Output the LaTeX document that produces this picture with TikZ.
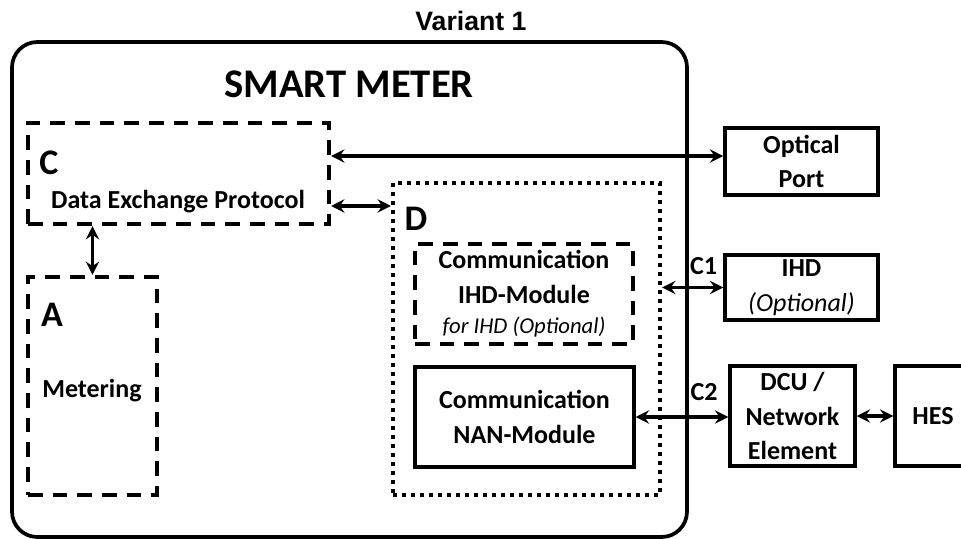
\documentclass[tikz,border=0pt]{standalone}
\usepackage{fontspec}
\setmainfont{Carlito}
\newfontfamily\titlefont{Liberation Sans}
\usetikzlibrary{arrows.meta}

\begin{document}
\begin{tikzpicture}[
    x = 0.75pt,
    y = -0.75pt,
    >={Stealth[length=10pt, width=10pt, inset=3.5pt]},
    solidbox/.style = {draw, line width=2.6pt, inner sep=0pt, align=center,
    font=\bfseries\fontsize{19.5}{26}\selectfont},
    dashbox/.style = {draw, line width=3.2pt, dash pattern=on 11pt off 7.5pt,
    inner sep=0pt, align=center, font=\bfseries\fontsize{19.5}{26}\selectfont},
    dotbox/.style = {draw, line width=3.2pt, dash pattern=on 3pt off 3.75pt,
    inner sep=0pt},
    letter/.style = {font=\bfseries\fontsize{27}{30}\selectfont, inner sep=0pt},
    txt/.style = {font=\bfseries\fontsize{19.5}{26}\selectfont, inner sep=0pt},
    conn/.style = {<->, line width=2.5pt},
]

\useasboundingbox (0,0) rectangle (961,539);

% outer frame
\node[draw, line width=2.8pt, rounded corners=19pt, minimum width=506.25pt,
    minimum height=371.25pt] (meter) at (349.5,289.5){};
\node[font=\titlefont\bfseries\fontsize{20}{24}\selectfont, inner sep=0pt]
    (variant) at (471,21){Variant 1};
\node[font=\bfseries\fontsize{30.5}{34}\selectfont, inner sep=0pt]
    (meter_title) at (349,84){SMART METER};

% inside the meter
\node[dashbox, minimum width=225.75pt, minimum height=75.75pt] (box_c) at (178.5,173.5){};
\node[letter] (letter_c) at (49,162.5){C};
\node[txt] (dxp_text) at (178,202){Data Exchange Protocol};

\node[dashbox, minimum width=96.75pt, minimum height=163.5pt] (box_a) at (92.5,386){};
\node[letter] (letter_a) at (52,315){A};
\node[txt] (metering_text) at (92,391){Metering};

\node[dotbox, minimum width=200.25pt, minimum height=234pt] (box_d) at (526.5,339){};
\node[letter] (letter_d) at (416,219){D};

\node[dashbox, minimum width=163.5pt, minimum height=75pt] (ihd_module) at (524,294)
    {Communication\\IHD-Module\\[-3pt]{\mdseries\itshape\fontsize{17}{20}\selectfont for IHD (Optional)}};
\node[solidbox, minimum width=164.25pt, minimum height=75pt] (nan_module) at (524.5,417)
    {Communication\\NAN-Module};

% outside devices
\node[solidbox, minimum width=114.75pt, minimum height=50.25pt] (optical_port) at (801.5,161.5)
    {Optical\\Port};
\node[solidbox, minimum width=114.75pt, minimum height=48.75pt] (ihd) at (801.5,287.5)
    {IHD\\{\mdseries\itshape (Optional)}};
\node[solidbox, minimum width=93.75pt, minimum height=75pt] (dcu) at (792.5,416)
    {DCU /\\Network\\Element};
\node[solidbox, minimum width=57pt, minimum height=75pt] (hes) at (933,416){HES};

% connections
\draw [conn] (optical_port.176.6 -| box_c.east) -- (optical_port.176.6);
\draw [conn] (box_c.-12.5) -- (box_c.-12.5 -| box_d.west);
\draw [conn] (box_a.north) -- (box_a.north |- box_c.south);
\draw [conn] (ihd.west -| box_d.east) -- (ihd.west)
    node [txt, above=8pt, pos=0.68]{C1};
\draw [conn] (nan_module.east) -- (nan_module.east -| dcu.west)
    node [txt, above=11pt, pos=0.74]{C2};
\draw [conn] (dcu.east) -- (hes.west);

\end{tikzpicture}
\end{document}
